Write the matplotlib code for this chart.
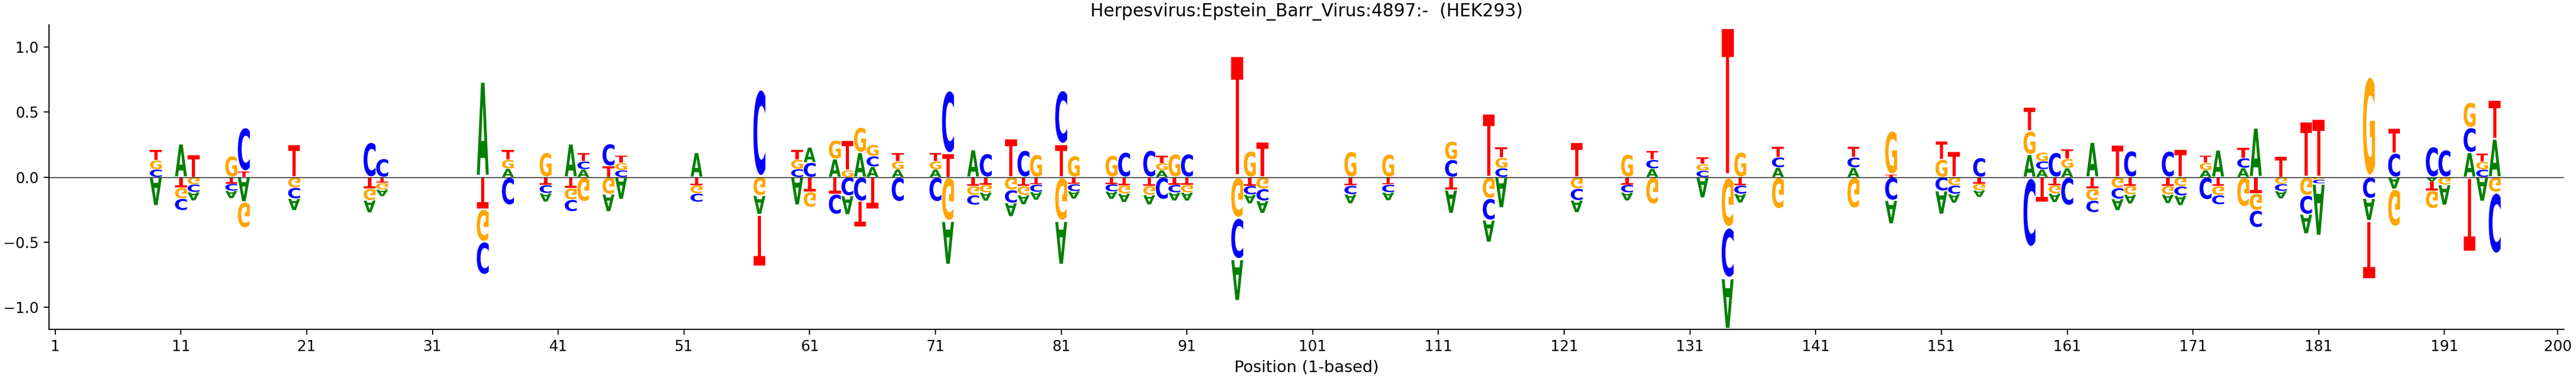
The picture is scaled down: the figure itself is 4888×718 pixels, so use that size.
import matplotlib
matplotlib.use("Agg")
import matplotlib.pyplot as plt
from matplotlib.textpath import TextPath
from matplotlib.patches import PathPatch
from matplotlib.font_manager import FontProperties
from matplotlib.transforms import Affine2D

# Signed contribution of each base at the positions that carry a value
positions = [9, 11, 12, 15, 16, 20, 26, 27, 35, 37, 40, 42, 43, 45, 46, 52, 57,
             60, 61, 63, 64, 65, 66, 68, 71, 72, 74, 75, 77, 78, 79, 81, 82, 85,
             86, 88, 89, 90, 91, 95, 96, 97, 104, 107, 112, 115, 116, 122, 126,
             128, 132, 134, 135, 138, 144, 147, 151, 152, 154, 158, 159, 160,
             161, 163, 165, 166, 169, 170, 172, 173, 175, 176, 178, 180, 181,
             185, 187, 190, 191, 193, 194, 195]

val_A = [-0.22, 0.258, -0.065, -0.058, -0.19, -0.09, -0.095, -0.052, 0.745, 0.065,
         -0.066, 0.258, 0.06, -0.135, -0.171, 0.19, -0.145, -0.215, 0.117, 0.14,
         -0.145, 0.19, 0.08, 0.06, 0.06, -0.338, 0.212, -0.064, -0.104, -0.072,
         -0.061, -0.338, -0.058, -0.058, -0.067, -0.074, 0.053, -0.063, -0.063,
         -0.322, -0.069, -0.095, -0.07, -0.062, -0.181, -0.17, -0.237, -0.093,
         -0.062, 0.066, -0.159, -0.394, -0.068, 0.074, 0.074, -0.181, -0.18,
         -0.069, -0.052, 0.175, 0.06, -0.067, 0.07, 0.271, -0.088, -0.07, -0.068,
         -0.075, 0.054, 0.21, 0.071, 0.383, -0.058, -0.15, -0.405, -0.17, -0.09,
         -0.033, -0.157, 0.19, -0.186, 0.295]

val_C = [0.06, -0.09, -0.06, -0.055, 0.34, -0.085, 0.27, 0.143, -0.255, -0.215,
         -0.063, -0.09, 0.062, 0.173, 0.054, -0.065, 0.683, 0.063, 0.113, -0.155,
         -0.143, -0.185, 0.082, -0.188, -0.188, 0.492, -0.075, 0.182, -0.1, 0.208,
         -0.058, 0.418, -0.055, -0.056, 0.193, 0.208, -0.171, -0.06, 0.18,
         -0.318, -0.068, -0.092, -0.067, -0.06, 0.135, -0.167, 0.07, -0.09,
         -0.06, 0.068, 0.05, -0.39, -0.065, 0.08, 0.079, -0.178, -0.105,
         -0.066, 0.151, -0.542, 0.063, 0.191, -0.218, -0.092, -0.085, 0.204, 0.202,
         -0.072, -0.173, -0.072, 0.076, -0.132, -0.055, -0.145, -0.028, -0.163, 0.185,
         0.236, 0.212, 0.192, 0.059, -0.478]

val_G = [0.07, -0.085, -0.055, 0.165, -0.2, -0.08, -0.09, -0.05, -0.25, 0.07,
         0.19, -0.088, -0.188, -0.13, 0.056, -0.063, -0.141, 0.072, -0.117, 0.145,
         0.054, 0.195, 0.087, 0.062, 0.062, -0.336, -0.07, -0.06, -0.098, -0.07,
         0.175, -0.336, 0.165, 0.169, -0.064, -0.07, 0.055, 0.18, -0.06,
         -0.312, 0.202, -0.09, 0.199, 0.178, 0.141, -0.163, 0.08, -0.088,
         0.178, -0.207, 0.051, -0.385, 0.194, -0.244, -0.239, 0.34, 0.137,
         -0.063, -0.051, 0.18, 0.067, -0.064, 0.072, -0.09, -0.082, -0.068, -0.067,
         -0.07, 0.056, -0.07, -0.228, -0.13, -0.052, -0.14, -0.02, 0.784, -0.29,
         -0.137, -0.058, 0.195, 0.06, -0.114]

val_T = [0.08, -0.08, 0.175, -0.05, 0.045, 0.253, -0.088, -0.045, -0.245, 0.075,
         -0.06, -0.085, 0.066, 0.085, 0.058, -0.062, -0.403, 0.076, -0.113, -0.13,
         0.232, -0.2, -0.249, 0.066, 0.066, 0.18, -0.068, -0.058, 0.3, -0.068,
         -0.056, 0.254, -0.053, -0.054, -0.062, -0.067, 0.058, -0.058, -0.058,
         0.947, -0.066, 0.274, -0.065, -0.057, -0.098, 0.496, 0.083, 0.268,
         -0.058, 0.07, 0.052, 1.168, -0.063, 0.083, 0.082, 0.02, 0.142,
         0.199, -0.05, 0.184, -0.194, -0.062, 0.074, -0.089, 0.25, -0.066, -0.066,
         0.215, 0.058, -0.068, 0.079, -0.125, 0.162, 0.43, 0.451, -0.455, 0.19,
         -0.07, 0.0, -0.579, 0.064, 0.3]

x_ticks = [1, 11, 21, 31, 41, 51, 61, 71, 81, 91, 101, 111, 121, 131, 141, 151,
           161, 171, 181, 191, 200]
y_ticks = [-1.0, -0.5, 0.0, 0.5, 1.0]

title = "Herpesvirus:Epstein_Barr_Virus:4897:-  (HEK293)"

colors = {'A': (0, 0.5, 0), 'C': (0, 0, 1), 'G': (1, 0.65, 0), 'T': (1, 0, 0)}
WIDTH = 0.95
VPAD = 0.05

font = FontProperties(family='DejaVu Sans', weight='bold')
glyph_paths = {ch: TextPath((0, 0), ch, size=1, prop=font) for ch in 'ACGT'}


def draw_glyph(ax, ch, x, floor, ceiling, flip):
    """Stretch a letter so it fills [x-W/2, x+W/2] x [floor, ceiling]."""
    path = glyph_paths[ch]
    ext = path.get_extents()
    pad = VPAD * (ceiling - floor) / 2
    y0, y1 = floor + pad, ceiling - pad
    sx = WIDTH / ext.width
    sy = (y1 - y0) / ext.height
    if flip:
        t = Affine2D().translate(-ext.x0, -ext.y1).scale(sx, -sy).translate(x - WIDTH / 2, y0)
    else:
        t = Affine2D().translate(-ext.x0, -ext.y0).scale(sx, sy).translate(x - WIDTH / 2, y0)
    patch = PathPatch(path.transformed(t), facecolor=colors[ch], edgecolor='none', lw=0)
    ax.add_patch(patch)


fig = plt.figure(figsize=(24.44, 3.59), dpi=200)
ax = fig.add_axes([0.019, 0.131, 0.9763, 0.803])

for i, pos in enumerate(positions):
    vals = {'A': val_A[i], 'C': val_C[i], 'G': val_G[i], 'T': val_T[i]}
    # biggest letter furthest from zero
    pos_letters = sorted([(v, c) for c, v in vals.items() if v > 0])
    neg_letters = sorted([(-v, c) for c, v in vals.items() if v < 0])
    top = 0.0
    for v, c in pos_letters:
        draw_glyph(ax, c, pos, top, top + v, flip=False)
        top += v
    bottom = 0.0
    for v, c in neg_letters:
        draw_glyph(ax, c, pos, bottom - v, bottom, flip=True)
        bottom -= v

ax.axhline(0, color='black', linewidth=0.5)
ax.set_xlim(0.5, 200.5)
ax.set_ylim(-1.17, 1.17)
ax.set_xticks(x_ticks)
ax.set_yticks(y_ticks)
ax.spines['top'].set_visible(False)
ax.spines['right'].set_visible(False)
ax.set_xlabel("Position (1-based)", fontsize=11)
ax.set_title(title)

fig.savefig("out.png", dpi=200)
